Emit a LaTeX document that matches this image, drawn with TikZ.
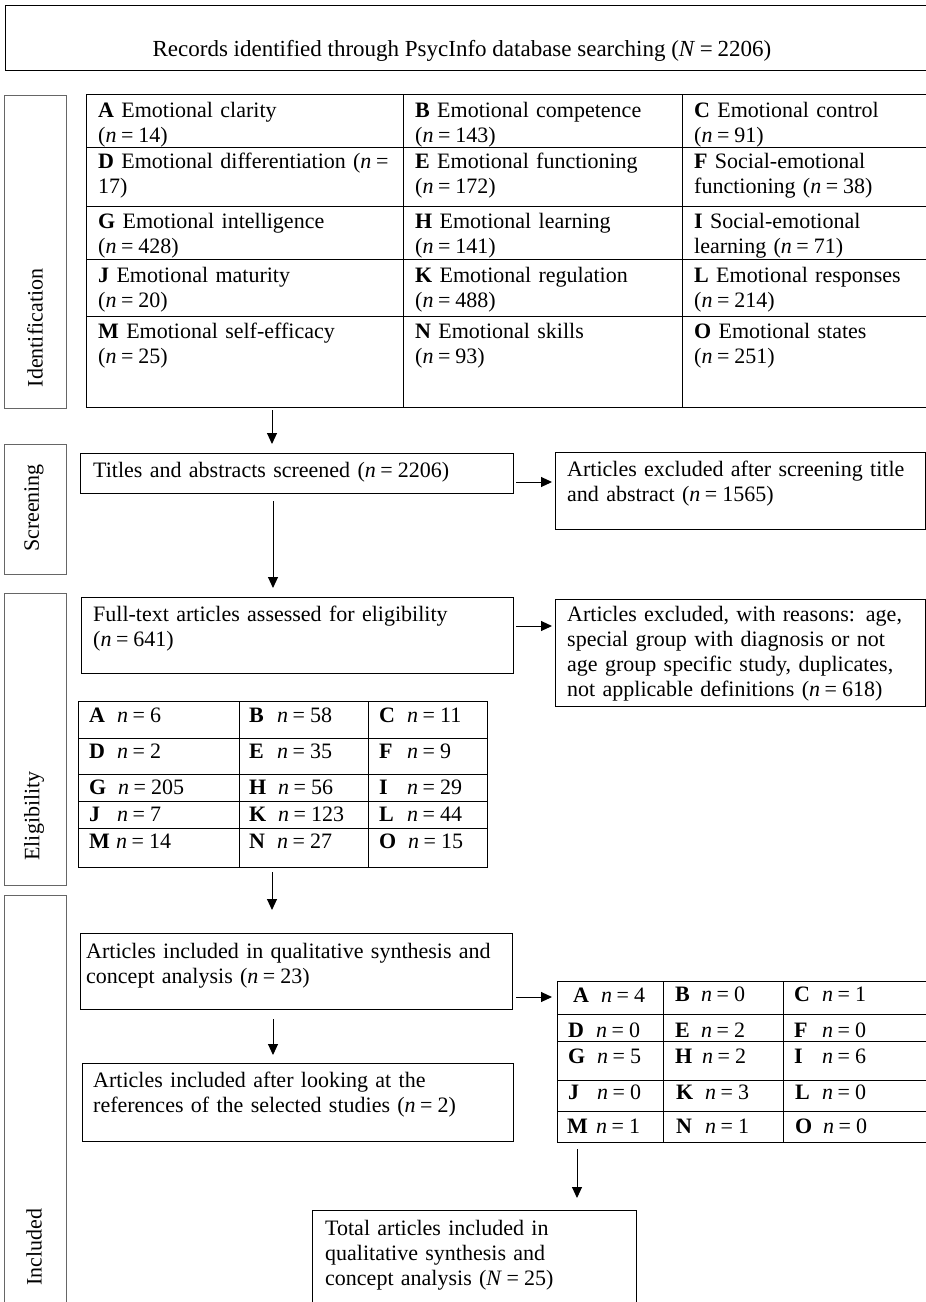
\documentclass[tikz,border=0pt]{standalone}
\usepackage{fontspec}
\setmainfont{Liberation Serif}
\usetikzlibrary{arrows.meta}
\newcommand\myfs{\fontsize{22}{25}\selectfont}
\newcommand\nn{\textit{n}}
\newcommand\eqs{\kern4.5pt=\kern5pt}
\begin{document}
\begin{tikzpicture}[x=1pt,y=-1pt,
  box/.style={draw, line width=1pt, inner sep=0pt, anchor=north west},
  sidebox/.style={draw=black!60, line width=1pt, inner sep=0pt, anchor=north west, minimum width=62pt},
  sidelbl/.style={rotate=90, inner sep=0pt, font=\myfs},
  txt/.style={inner sep=0pt, anchor=base west, font=\myfs, align=left, text width=600pt},
  cell/.style={inner sep=0pt, anchor=base west, font=\myfs},
  arr/.style={-{Triangle[length=11pt,width=10pt]}, line width=1pt},
  tline/.style={line width=1pt}
]
\useasboundingbox (0,0) rectangle (926,1302);
\fill[white] (0,0) rectangle (926,1302);

% helper coordinates for connector columns / rows
\coordinate (cA) at (272,0);
\coordinate (cB) at (273,0);
\coordinate (cC) at (577,0);
\coordinate (rA) at (0,482);
\coordinate (rB) at (0,626);
\coordinate (rC) at (0,997);

% top box
\node[box, minimum width=930pt, minimum height=65pt] (top) at (5,5) {};
\node[cell, anchor=base, font=\fontsize{23}{26}\selectfont] (topT) at (462,56) {Records identified through PsycInfo database searching (\textit{N}\eqs 2206)};

% side boxes
\node[sidebox, minimum height=313pt] (sid) at (4,95) {};
\node[sidelbl] (sidT) at (35,328) {Identification};
\node[sidebox, minimum height=130pt] (sscr) at (4,444) {};
\node[sidelbl] (sscrT) at (34,508) {Screening};
\node[sidebox, minimum height=292pt] (selg) at (4,593) {};
\node[sidelbl] (selgT) at (34,816) {Eligibility};
\node[sidebox, minimum height=420pt] (sinc) at (4,895) {};
\node[sidelbl] (sincT) at (34,1247) {Included};

% identification table
\node[box, minimum width=860pt, minimum height=313pt] (idtab) at (86,94) {};
\foreach \yy in {147,206,259,316} \draw[tline] (86,\yy) -- (940,\yy);
\draw[tline] (403,94) -- (403,407);
\draw[tline] (682,94) -- (682,407);

\node[txt] (iA) at (98,117) {\textbf{A} Emotional clarity\\(\nn\eqs 14)};
\node[txt] (iB) at (415,117) {\textbf{B} Emotional competence\\(\nn\eqs 143)};
\node[txt] (iC) at (694,117) {\textbf{C} Emotional control\\(\nn\eqs 91)};
\node[txt] (iD) at (98,168) {\textbf{D} Emotional differentiation (\nn\kern4.5pt=\\17)};
\node[txt] (iE) at (415,168) {\textbf{E} Emotional functioning\\(\nn\eqs 172)};
\node[txt] (iF) at (694,168) {\textbf{F} Social-emotional\\functioning (\nn\eqs 38)};
\node[txt] (iG) at (98,228) {\textbf{G} Emotional intelligence\\(\nn\eqs 428)};
\node[txt] (iH) at (415,228) {\textbf{H} Emotional learning\\(\nn\eqs 141)};
\node[txt] (iI) at (694,228) {\textbf{I} Social-emotional\\learning (\nn\eqs 71)};
\node[txt] (iJ) at (98,282) {\textbf{J} Emotional maturity\\(\nn\eqs 20)};
\node[txt] (iK) at (415,282) {\textbf{K} Emotional regulation\\(\nn\eqs 488)};
\node[txt] (iL) at (694,282) {\textbf{L} Emotional responses\\(\nn\eqs 214)};
\node[txt] (iM) at (98,338) {\textbf{M} Emotional self-efficacy\\(\nn\eqs 25)};
\node[txt] (iN) at (415,338) {\textbf{N} Emotional skills\\(\nn\eqs 93)};
\node[txt] (iO) at (694,338) {\textbf{O} Emotional states\\(\nn\eqs 251)};

% screening
\node[box, minimum width=433pt, minimum height=40pt] (titles) at (80,453) {};
\node[txt] (titlesT) at (93,477) {Titles and abstracts screened (\nn\eqs 2206)};
\node[box, minimum width=370pt, minimum height=77pt] (ex1) at (555,452) {};
\node[txt] (ex1T) at (567,476) {Articles excluded after screening title\\and abstract (\nn\eqs 1565)};

% eligibility
\node[box, minimum width=432pt, minimum height=76pt] (full) at (81,597) {};
\node[txt] (fullT) at (93,621) {Full-text articles assessed for eligibility\\(\nn\eqs 641)};
\node[box, minimum width=370pt, minimum height=107pt] (ex2) at (555,599) {};
\node[txt] (ex2T) at (567,621) {Articles excluded, with reasons: age,\\special group with diagnosis or not\\age group specific study, duplicates,\\not applicable definitions (\nn\eqs 618)};

% eligibility table
\node[box, minimum width=409pt, minimum height=166pt] (eltab) at (78,701) {};
\foreach \yy in {738,774,801,828} \draw[tline] (78,\yy) -- (487,\yy);
\draw[tline] (239,701) -- (239,867);
\draw[tline] (368,701) -- (368,867);
\node[cell] (eA) at (89,722) {\makebox[28pt][l]{\textbf{A}}\nn\eqs 6};
\node[cell] (eB) at (249,722) {\makebox[28pt][l]{\textbf{B}}\nn\eqs 58};
\node[cell] (eC) at (379,722) {\makebox[28pt][l]{\textbf{C}}\nn\eqs 11};
\node[cell] (eD) at (89,758) {\makebox[28pt][l]{\textbf{D}}\nn\eqs 2};
\node[cell] (eE) at (249,758) {\makebox[28pt][l]{\textbf{E}}\nn\eqs 35};
\node[cell] (eF) at (379,758) {\makebox[28pt][l]{\textbf{F}}\nn\eqs 9};
\node[cell] (eG) at (89,794) {\makebox[29pt][l]{\textbf{G}}\nn\eqs 205};
\node[cell] (eH) at (249,794) {\makebox[29pt][l]{\textbf{H}}\nn\eqs 56};
\node[cell] (eI) at (379,794) {\makebox[28pt][l]{\textbf{I}}\nn\eqs 29};
\node[cell] (eJ) at (89,821) {\makebox[28pt][l]{\textbf{J}}\nn\eqs 7};
\node[cell] (eK) at (249,821) {\makebox[29pt][l]{\textbf{K}}\nn\eqs 123};
\node[cell] (eL) at (379,821) {\makebox[28pt][l]{\textbf{L}}\nn\eqs 44};
\node[cell] (eM) at (89,848) {\makebox[27pt][l]{\textbf{M}}\nn\eqs 14};
\node[cell] (eN) at (249,848) {\makebox[28pt][l]{\textbf{N}}\nn\eqs 27};
\node[cell] (eO) at (379,848) {\makebox[29pt][l]{\textbf{O}}\nn\eqs 15};

% included
\node[box, minimum width=432pt, minimum height=76pt] (qual) at (80,933) {};
\node[txt] (qualT) at (86,958) {Articles included in qualitative synthesis and\\concept analysis (\nn\eqs 23)};
\node[box, minimum width=431pt, minimum height=78pt] (refs) at (82,1063) {};
\node[txt] (refsT) at (93,1087) {Articles included after looking at the\\references of the selected studies (\nn\eqs 2)};

% included table
\node[box, minimum width=380pt, minimum height=161pt] (intab) at (557,981) {};
\foreach \yy in {1014,1041,1080,1111} \draw[tline] (557,\yy) -- (940,\yy);
\draw[tline] (663,981) -- (663,1142);
\draw[tline] (783,981) -- (783,1142);
\node[cell] (nA) at (573,1002) {\makebox[28pt][l]{\textbf{A}}\nn\eqs 4};
\node[cell] (nB) at (675,1001) {\makebox[26pt][l]{\textbf{B}}\nn\eqs 0};
\node[cell] (nC) at (794,1001) {\makebox[28pt][l]{\textbf{C}}\nn\eqs 1};
\node[cell] (nD) at (568,1037) {\makebox[28pt][l]{\textbf{D}}\nn\eqs 0};
\node[cell] (nE) at (675,1037) {\makebox[26pt][l]{\textbf{E}}\nn\eqs 2};
\node[cell] (nF) at (794,1037) {\makebox[28pt][l]{\textbf{F}}\nn\eqs 0};
\node[cell] (nG) at (568,1063) {\makebox[29pt][l]{\textbf{G}}\nn\eqs 5};
\node[cell] (nH) at (675,1063) {\makebox[27pt][l]{\textbf{H}}\nn\eqs 2};
\node[cell] (nI) at (794,1063) {\makebox[28pt][l]{\textbf{I}}\nn\eqs 6};
\node[cell] (nJ) at (568,1099) {\makebox[29pt][l]{\textbf{J}}\nn\eqs 0};
\node[cell] (nK) at (676,1099) {\makebox[29pt][l]{\textbf{K}}\nn\eqs 3};
\node[cell] (nL) at (795,1099) {\makebox[27pt][l]{\textbf{L}}\nn\eqs 0};
\node[cell] (nM) at (567,1133) {\makebox[29pt][l]{\textbf{M}}\nn\eqs 1};
\node[cell] (nN) at (676,1133) {\makebox[29pt][l]{\textbf{N}}\nn\eqs 1};
\node[cell] (nO) at (795,1133) {\makebox[28pt][l]{\textbf{O}}\nn\eqs 0};

% total
\node[box, minimum width=324pt, minimum height=110pt] (total) at (312,1210) {};
\node[txt] (totalT) at (325,1235) {Total articles included in\\qualitative synthesis and\\concept analysis (\textit{N}\eqs 25)};

% connectors
\draw[arr, shorten <=2pt, shorten >=9pt] (idtab.south -| cA) -- (titles.north -| cA);
\draw[arr, shorten <=7pt, shorten >=9pt] (titles.south -| cB) -- (full.north -| cB);
\draw[arr, shorten <=2pt, shorten >=3pt] (titles.east |- rA) -- (ex1.west |- rA);
\draw[arr, shorten <=2pt, shorten >=3pt] (full.east |- rB) -- (ex2.west |- rB);
\draw[arr, shorten <=4pt, shorten >=23pt] (eltab.south -| cA) -- (qual.north -| cA);
\draw[arr, shorten <=9pt, shorten >=8pt] (qual.south -| cB) -- (refs.north -| cB);
\draw[arr, shorten <=3pt, shorten >=5pt] (qual.east |- rC) -- (intab.west |- rC);
\draw[arr, shorten <=6pt, shorten >=12pt] (intab.south -| cC) -- (total.north -| cC);
\end{tikzpicture}
\end{document}
